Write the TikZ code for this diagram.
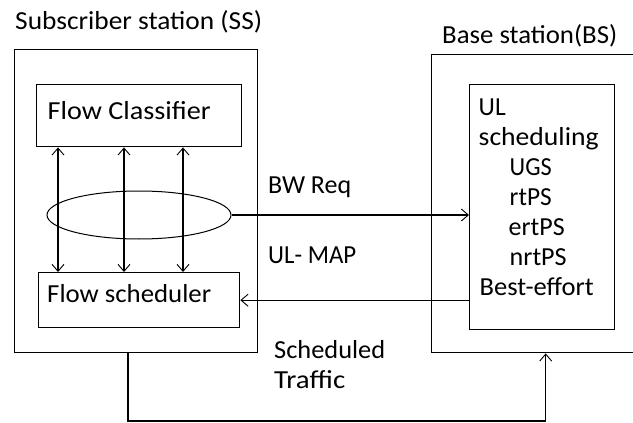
\documentclass[tikz,border=0pt]{standalone}
\usepackage{fontspec}
\usepackage{graphicx}
\setmainfont{Carlito}
\usetikzlibrary{arrows.meta,shapes.geometric}
\newcommand{\tw}[2]{\resizebox{#1pt}{\height}{#2}}
\begin{document}
\begin{tikzpicture}[x=1pt,y=-1pt,
  box/.style={draw, line width=1.4pt, anchor=north west, inner sep=0pt},
  lbl/.style={anchor=base west, inner sep=0pt, font=\fontsize{26}{30}\selectfont},
  conn/.style={line width=1.3pt, -{Straight Barb[length=7pt,width=12pt,line width=0.9pt]}},
  conn2/.style={line width=1.3pt, {Straight Barb[length=7pt,width=12pt,line width=0.9pt]}-{Straight Barb[length=7pt,width=12pt,line width=0.9pt]}}]
\useasboundingbox (0,0) rectangle (633,423);
\clip (0,0) rectangle (633,423);
% boxes
\node[box, minimum width=243pt, minimum height=303pt] (ss) at (14,49) {};
\node[box, minimum width=228pt, minimum height=298pt] (bs) at (431,54) {};
\node[box, minimum width=205pt, minimum height=62pt] (fc) at (36,84) {};
\node[box, minimum width=201pt, minimum height=55pt] (fs) at (38,272) {};
\node[box, minimum width=145pt, minimum height=245pt] (ul) at (469,84) {};
\node[draw, ellipse, line width=1pt, minimum width=184pt, minimum height=48pt, inner sep=0pt] (ell) at (139,215) {};
% texts
\node[lbl] (tss) at (15,29) {\tw{247}{Subscriber station (SS)}};
\node[lbl] (tbs) at (442,43) {\tw{175}{Base station(BS)}};
\node[lbl] (tfc) at (47.5,119) {\tw{163}{Flow Classifier}};
\node[lbl] (tfs) at (47,302) {\tw{164}{Flow scheduler}};
\node[lbl] (tbw) at (268,193) {\tw{83}{BW Req}};
\node[lbl] (tmap) at (268,263) {\tw{88}{UL- MAP}};
\node[lbl] (tst1) at (274,358) {\tw{111}{Scheduled}};
\node[lbl] (tst2) at (274,388) {\tw{71}{Traffic}};
\node[lbl] (u1) at (478.5,115) {\tw{27}{UL}};
\node[lbl] (u2) at (478.5,145) {\tw{120}{scheduling}};
\node[lbl] (u3) at (509.5,175) {\tw{42}{UGS}};
\node[lbl] (u4) at (509.5,205) {\tw{42}{rtPS}};
\node[lbl] (u5) at (508.5,235) {\tw{56}{ertPS}};
\node[lbl] (u6) at (509.5,265) {\tw{57}{nrtPS}};
\node[lbl] (u7) at (479.5,295) {\tw{114}{Best-effort}};
% vertical double arrows
\draw[conn2] ([xshift=22pt]fc.south west) -- ([xshift=22pt]fc.south west |- fs.north);
\draw[conn2] ([xshift=88pt]fc.south west) -- ([xshift=88pt]fc.south west |- fs.north);
\draw[conn2] ([xshift=147pt]fc.south west) -- ([xshift=147pt]fc.south west |- fs.north);
% BW Req and UL-MAP
\draw[conn] (ell.east) -- (ell.east -| ul.west);
\draw[conn] (fs.east -| ul.west) -- (fs.east);
% scheduled traffic
\coordinate (bot) at (300,421);
\draw[conn] ([xshift=114pt]ss.south west) -- ([xshift=114pt]ss.south west |- bot) -| (bs.south);
\end{tikzpicture}
\end{document}
